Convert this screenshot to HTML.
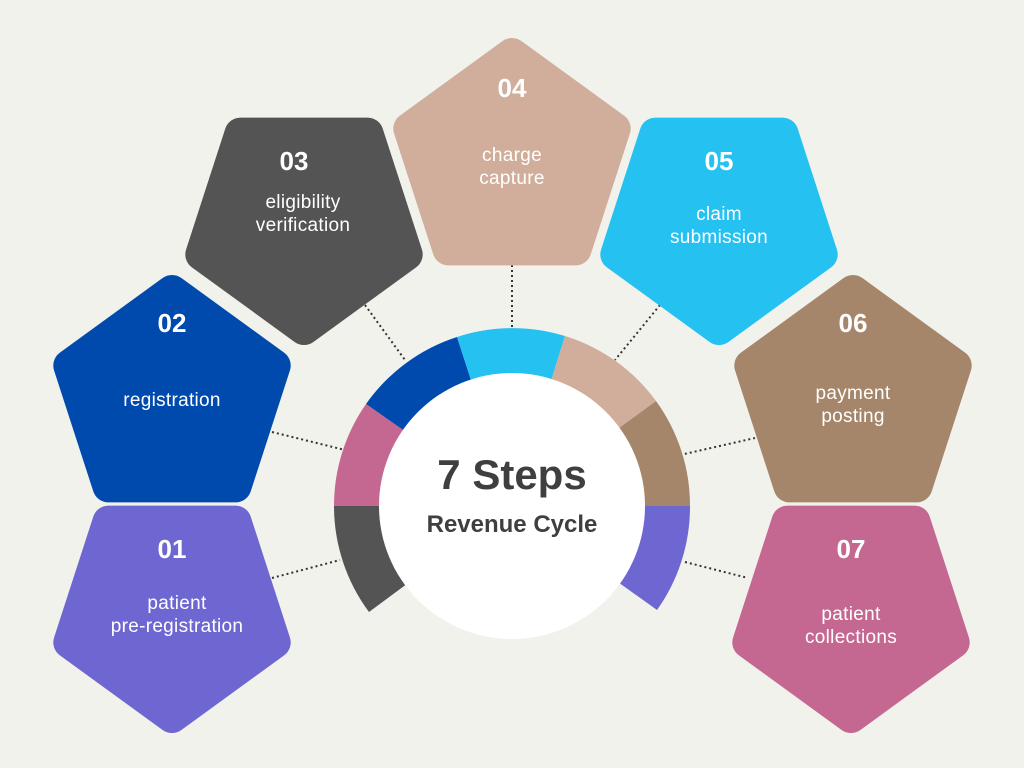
<!DOCTYPE html>
<html><head><meta charset="utf-8"><style>
html,body{margin:0;padding:0;background:#f1f2ec;}
svg{display:block}
text{font-family:"Liberation Sans",sans-serif;fill:#fff;text-anchor:middle}
.n{font-size:26px;font-weight:bold}
.l{font-size:19px;letter-spacing:0.3px}
.c{fill:#3f3f3f;font-weight:bold}
</style></head><body>
<svg width="1024" height="768" viewBox="0 0 1024 768">
<rect width="1024" height="768" fill="#f1f2ec"/>
<g stroke="#333" stroke-width="2" stroke-dasharray="2,3">
<line x1="365" y1="305" x2="405" y2="360"/>
<line x1="512" y1="265" x2="512" y2="328"/>
<line x1="660" y1="305" x2="615" y2="360"/>
<line x1="272" y1="432" x2="345" y2="450"/>
<line x1="680" y1="455" x2="755" y2="438"/>
<line x1="272" y1="578" x2="340" y2="560"/>
<line x1="685" y1="562" x2="748" y2="578"/>
</g>
<defs>
<polygon id="up" points="0,-108 102.7,-33.4 63.5,87.4 -63.5,87.4 -102.7,-33.4" stroke-width="32" stroke-linejoin="round"/>
<polygon id="dn" points="0,108 102.7,33.4 63.5,-87.4 -63.5,-87.4 -102.7,33.4" stroke-width="32" stroke-linejoin="round"/>
</defs>
<use href="#up" transform="translate(512,162)" fill="#d0ae9b" stroke="#d0ae9b"/>
<use href="#dn" transform="translate(304,221)" fill="#545454" stroke="#545454"/>
<use href="#dn" transform="translate(719,221)" fill="#25c1f1" stroke="#25c1f1"/>
<use href="#up" transform="translate(172,399)" fill="#004aad" stroke="#004aad"/>
<use href="#up" transform="translate(853,399)" fill="#a5866a" stroke="#a5866a"/>
<use href="#dn" transform="translate(172,609)" fill="#6f67d1" stroke="#6f67d1"/>
<use href="#dn" transform="translate(851,609)" fill="#c56891" stroke="#c56891"/>
<g>
<path d="M512,506 L334,506 A178,178 0 0 0 369,612 Z" fill="#545454"/>
<path d="M512,506 L366,404 A178,178 0 0 0 334,506 Z" fill="#c56891"/>
<path d="M512,506 L457,337 A178,178 0 0 0 366,404 Z" fill="#004aad"/>
<path d="M512,506 L565,336 A178,178 0 0 0 457,337 Z" fill="#25c1f1"/>
<path d="M512,506 L656,401 A178,178 0 0 0 565,336 Z" fill="#d0ae9b"/>
<path d="M512,506 L690,506 A178,178 0 0 0 656,401 Z" fill="#a5866a"/>
<path d="M512,506 L657,610 A178,178 0 0 0 690,506 Z" fill="#6f67d1"/>
</g>
<circle cx="512" cy="506" r="133" fill="#fff"/>
<text x="512" y="489" class="c" style="font-size:42px">7 Steps</text>
<text x="512" y="532" class="c" style="font-size:24px">Revenue Cycle</text>
<text x="512" y="97" class="n">04</text>
<text x="512" y="161" class="l">charge</text>
<text x="512" y="184" class="l">capture</text>
<text x="294" y="170" class="n">03</text>
<text x="303" y="208" class="l">eligibility</text>
<text x="303" y="231" class="l">verification</text>
<text x="719" y="170" class="n">05</text>
<text x="719" y="220" class="l">claim</text>
<text x="719" y="243" class="l">submission</text>
<text x="172" y="332" class="n">02</text>
<text x="172" y="406" class="l">registration</text>
<text x="853" y="332" class="n">06</text>
<text x="853" y="399" class="l">payment</text>
<text x="853" y="422" class="l">posting</text>
<text x="172" y="558" class="n">01</text>
<text x="177" y="609" class="l">patient</text>
<text x="177" y="632" class="l">pre-registration</text>
<text x="851" y="558" class="n">07</text>
<text x="851" y="620" class="l">patient</text>
<text x="851" y="643" class="l">collections</text>
</svg>
</body></html>
